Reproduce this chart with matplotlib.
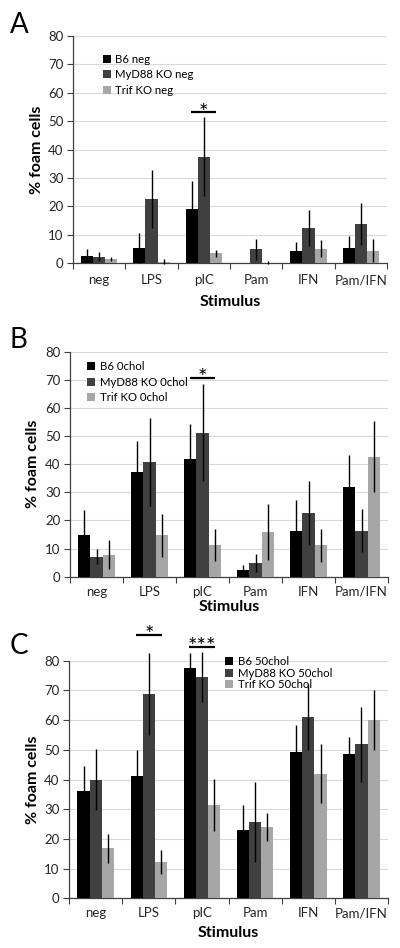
import matplotlib
matplotlib.use("Agg")
import matplotlib.pyplot as plt
import numpy as np
from matplotlib.patches import Patch

plt.rcParams['font.family'] = ['Lato', 'DejaVu Sans']

categories = ["neg", "LPS", "pIC", "Pam", "IFN", "Pam/IFN"]
colors = ["#000000", "#404040", "#a6a6a6"]

# Panel A
a_labels = ["B6 neg", "MyD88 KO neg", "Trif KO neg"]
a_b6 = [2.7, 5.3, 19.2, 0.0, 4.2, 5.4]
a_myd = [2.4, 22.6, 37.5, 4.9, 12.4, 13.8]
a_trif = [1.6, 0.5, 3.6, 0.2, 5.2, 4.5]
a_b6_err = [2.3, 5.3, 9.9, 0.0, 3.3, 4.2]
a_myd_err = [1.5, 10.1, 13.8, 3.7, 6.2, 7.4]
a_trif_err = [0.8, 0.9, 1.2, 0.5, 2.9, 4.1]

# Panel B
b_labels = ["B6 0chol", "MyD88 KO 0chol", "Trif KO 0chol"]
b_b6 = [14.9, 37.3, 42.0, 2.3, 16.3, 31.9]
b_myd = [7.1, 40.8, 51.2, 4.9, 22.7, 16.3]
b_trif = [7.8, 14.7, 11.3, 15.9, 11.2, 42.7]
b_b6_err = [8.8, 10.8, 12.3, 1.7, 10.8, 11.3]
b_myd_err = [2.6, 15.5, 17.3, 3.3, 11.4, 7.6]
b_trif_err = [5.2, 7.7, 5.6, 9.9, 5.9, 12.7]

# Panel C
c_labels = ["B6 50chol", "MyD88 KO 50chol", "Trif KO 50chol"]
c_b6 = [36.2, 41.1, 77.5, 23.0, 49.3, 48.5]
c_myd = [40.0, 68.8, 74.5, 25.8, 61.0, 51.8]
c_trif = [16.8, 12.3, 31.5, 24.0, 42.0, 60.0]
c_b6_err = [8.3, 8.9, 5.0, 8.5, 9.0, 5.7]
c_myd_err = [10.2, 13.9, 8.4, 13.5, 11.2, 12.5]
c_trif_err = [4.9, 4.0, 8.8, 4.6, 9.8, 10.1]

# significance markers: (category index, height, label)
a_sig = [(2, 53.1, "*")]
b_sig = [(2, 70.8, "*")]
c_sig = [(1, 88.6, "*"), (2, 84.7, "***")]

panels = [
    dict(letter="A", rect=[0.1825, 0.7222, 0.785, 0.2400], labels=a_labels,
         vals=[a_b6, a_myd, a_trif], errs=[a_b6_err, a_myd_err, a_trif_err],
         sig=a_sig, leg=(0.095, 0.922, 0.42), letter_xy=(0.025, 0.987),
         tickpad=8, xlab_y=-0.17),
    dict(letter="B", rect=[0.175, 0.3917, 0.795, 0.2373], labels=b_labels,
         vals=[b_b6, b_myd, b_trif], errs=[b_b6_err, b_myd_err, b_trif_err],
         sig=b_sig, leg=(0.054, 0.958, 0.4), letter_xy=(0.025, 0.655),
         tickpad=6.5, xlab_y=-0.135),
    dict(letter="C", rect=[0.173, 0.0524, 0.797, 0.2506], labels=c_labels,
         vals=[c_b6, c_myd, c_trif], errs=[c_b6_err, c_myd_err, c_trif_err],
         sig=c_sig, leg=(0.489, 1.02, 0.06), letter_xy=(0.025, 0.332),
         tickpad=6.5, xlab_y=-0.145),
]

fig = plt.figure(figsize=(4.0, 9.48), dpi=100)
x = np.arange(len(categories))
w = 0.23
for p in panels:
    ax = fig.add_axes(p["rect"])
    for i in range(3):
        bc = ax.bar(x + (i - 1) * w, p["vals"][i], width=w, color=colors[i],
                    yerr=p["errs"][i],
                    error_kw=dict(ecolor="black", elinewidth=1.0, capsize=0),
                    zorder=3)
        for coll in bc.errorbar.lines[2]:
            coll.set_clip_on(False)
    ax.set_ylim(0, 80)
    ax.set_xlim(-0.5, len(categories) - 0.5)
    ax.set_yticks(np.arange(0, 81, 10))
    ax.yaxis.grid(True, color="#d9d9d9", linewidth=0.8, zorder=0)
    ax.set_axisbelow(True)
    ax.set_xticks(np.arange(-0.5, len(categories), 1.0))
    ax.set_xticklabels([])
    ax.set_xticks(x, minor=True)
    ax.set_xticklabels(categories, minor=True)
    ax.tick_params(axis="x", which="minor", length=0, pad=p["tickpad"],
                   labelsize=9.5, labelcolor="#262626")
    ax.tick_params(axis="x", which="major", length=4, color="#404040", width=0.8)
    ax.tick_params(axis="y", length=4, color="#404040", width=0.8,
                   labelsize=9.5, labelcolor="#262626", pad=3)
    for s in ["top", "right"]:
        ax.spines[s].set_visible(False)
    for s in ["left", "bottom"]:
        ax.spines[s].set_color("#404040")
        ax.spines[s].set_linewidth(0.9)
    ax.text(-0.115, 0.5, "% foam cells", rotation=90, ha="center", va="center",
            transform=ax.transAxes, fontsize=11.5, fontweight="bold")
    ax.text(0.5, p["xlab_y"], "Stimulus", ha="center", va="center",
            transform=ax.transAxes, fontsize=11.5, fontweight="bold")
    handles = [Patch(facecolor=colors[i], edgecolor="none") for i in range(3)]
    lx, ly, ls = p["leg"]
    ax.legend(handles, p["labels"], loc="upper left", bbox_to_anchor=(lx, ly),
              frameon=False, fontsize=8.2, handlelength=0.7, handleheight=0.7,
              handletextpad=0.4, labelspacing=ls, borderpad=0, borderaxespad=0)
    for ci, h, lab in p["sig"]:
        ax.plot([ci - 0.24, ci + 0.24], [h, h], color="black", lw=1.6,
                clip_on=False, zorder=5, solid_capstyle="butt")
        ax.annotate(lab, xy=(ci, h), xytext=(0, -4.5), textcoords="offset points",
                    ha="center", va="baseline", fontsize=16,
                    annotation_clip=False)
    fig.text(p["letter_xy"][0], p["letter_xy"][1], p["letter"], fontsize=20,
             ha="left", va="top")

fig.savefig("out.png", dpi=100)
